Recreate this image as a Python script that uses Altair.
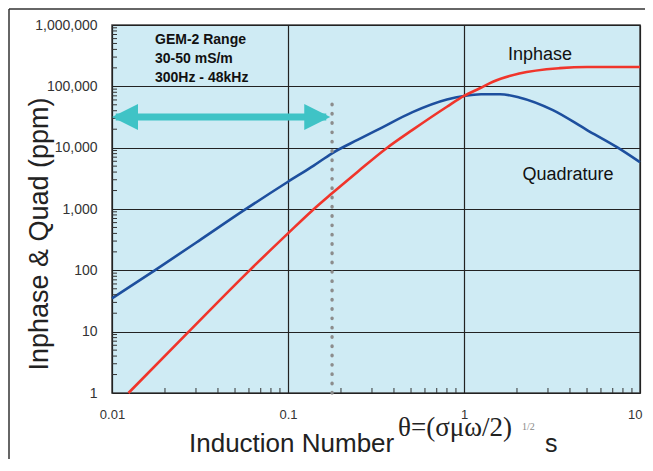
import altair as alt
import pandas as pd

# ---- data ----
theta_quad = [0.01, 0.0175, 0.031, 0.0555, 0.1, 0.14, 0.178, 0.25, 0.333, 0.51, 0.8,
              1.0, 1.25, 1.6, 2.06, 3.2, 5.0, 7.4, 10]
quadrature = [35, 100, 300, 930, 2780, 5100, 8100, 13500, 20500, 38000, 61000,
              69600, 74300, 74300, 66000, 41000, 19400, 10200, 5800]

theta_inph = [0.0124, 0.0273, 0.0605, 0.1, 0.136, 0.178, 0.25, 0.363, 0.51, 0.8,
              1.0, 1.23, 1.46, 2.06, 3.5, 5.0, 10]
inphase = [1, 10, 100, 400, 920, 1800, 4100, 9800, 19500, 46500,
           69600, 93000, 119000, 162000, 198000, 207000, 207000]

x_ticks = [0.01, 0.1, 1, 10]
y_ticks = [1, 10, 100, 1000, 10000, 100000, 1000000]
minor_mult = [2, 3, 4, 5, 6, 7, 8, 9]

gem_lines = ["GEM-2 Range", "30-50 mS/m", "300Hz - 48kHz"]
arrow_theta = [0.0105, 0.165]
arrow_ppm = 31600
dotted_theta = 0.178
dotted_top = 51000

# ---- tables ----
df = pd.concat([
    pd.DataFrame({"theta": theta_quad, "ppm": quadrature, "series": "Quadrature", "o": range(len(theta_quad))}),
    pd.DataFrame({"theta": theta_inph, "ppm": inphase, "series": "Inphase", "o": range(len(theta_inph))}),
])
minor_x = pd.DataFrame({"v": [m * d for d in x_ticks[:-1] for m in minor_mult]})
minor_y = pd.DataFrame({"v": [m * d for d in y_ticks[:-1] for m in minor_mult]})
one = pd.DataFrame({"a": [0]})

W, H = 528, 368
F = "Liberation Sans"
SERIF = "Liberation Serif"

xs = alt.Scale(type="log", domain=[0.01, 10], nice=False)
ys = alt.Scale(type="log", domain=[1, 1000000], nice=False)
AX = alt.Axis(values=x_ticks, format="~g", title=None, grid=True, labelFlush=False,
              labelAlign=alt.ExprRef(expr="datum.value == 10 ? 'right' : 'center'"),
              labelOffset=alt.ExprRef(expr="datum.value == 10 ? 2 : 0"),
              gridColor="#222", gridWidth=1.2, gridOpacity=1, ticks=False, domain=False,
              labelFont=F, labelFontSize=13, labelColor="#333", labelPadding=15)
AY = alt.Axis(values=y_ticks, format=",", title=None, grid=True, labelFlush=False,
              gridColor="#222", gridWidth=1.2, gridOpacity=1, ticks=False, domain=False,
              labelFont=F, labelFontSize=14, labelColor="#333", labelPadding=15)


def X(f):
    return alt.X(f, scale=xs, axis=AX)


def Y(f):
    return alt.Y(f, scale=ys, axis=AY)


lines = alt.Chart(df).mark_line(strokeWidth=2.6, interpolate="monotone").encode(
    x=X("theta:Q"),
    y=Y("ppm:Q"),
    color=alt.Color("series:N", scale=alt.Scale(domain=["Quadrature", "Inphase"],
                                                range=["#1d4f9e", "#f0352b"]), legend=None),
    order="o:Q",
)

mx = alt.Chart(minor_x).mark_rule(color="#333", strokeWidth=1).encode(
    x=X("v:Q"), y=alt.value(H), y2=alt.value(H - 5))
my = alt.Chart(minor_y).mark_rule(color="#333", strokeWidth=1).encode(
    y=Y("v:Q"), x=alt.value(0), x2=alt.value(5))

dotted = alt.Chart(pd.DataFrame({"t": [dotted_theta], "y1": [1], "y2": [dotted_top]})).mark_rule(
    color="#8c8c8c", strokeWidth=3.4, strokeDash=[0.5, 8.8], strokeCap="round").encode(
    x=X("t:Q"), y=Y("y1:Q"), y2="y2:Q")

teal = "#3fc3c6"
shaft = alt.Chart(pd.DataFrame({"t1": [arrow_theta[0]], "t2": [arrow_theta[1]], "p": [arrow_ppm]})).mark_rule(
    color=teal, strokeWidth=7).encode(
    x=X("t1:Q"), x2="t2:Q", y=Y("p:Q"))
head_l = alt.Chart(pd.DataFrame({"t": [0.01], "p": [arrow_ppm]})).mark_point(
    shape="M-1,0L1,-1L1,1Z", size=676, filled=True, opacity=1, color=teal, xOffset=13).encode(
    x=X("t:Q"), y=Y("p:Q"))
head_r = alt.Chart(pd.DataFrame({"t": [0.1738], "p": [arrow_ppm]})).mark_point(
    shape="M1,0L-1,-1L-1,1Z", size=676, filled=True, opacity=1, color=teal, xOffset=-13).encode(
    x=X("t:Q"), y=Y("p:Q"))


def txt(s, x, y, size, font=F, weight="normal", align="left", color="#111", angle=0, baseline="alphabetic"):
    return alt.Chart(one).mark_text(text=s, font=font, fontSize=size, fontWeight=weight, align=align,
                                    baseline=baseline, color=color, angle=angle).encode(
        x=alt.value(x), y=alt.value(y))


texts = [
    txt(gem_lines[0], 43, 19, 14, weight="bold"),
    txt(gem_lines[1], 43, 38, 14, weight="bold"),
    txt(gem_lines[2], 43, 57, 14, weight="bold"),
    txt("Inphase", 428, 35, 18, align="center"),
    txt("Quadrature", 456, 155, 18, align="center"),
    txt("Inphase & Quad (ppm)", -72, 209, 27, align="center", angle=270, baseline="middle", color="#222"),
    txt("Induction Number", 77, 427, 26, color="#222"),
    txt("θ=(σμω/2)", 286, 411, 27, font=SERIF, color="#222"),
    txt("1/2", 410, 405, 10, font=SERIF, color="#888"),
    txt("s", 433, 427, 25, color="#222"),
]

frame_top = alt.Chart(one).mark_rule(color="#333", strokeWidth=1.5).encode(
    x=alt.value(-103), x2=alt.value(W + 6), y=alt.value(-16))
frame_left = alt.Chart(one).mark_rule(color="#333", strokeWidth=1.5).encode(
    x=alt.value(-103), y=alt.value(-16), y2=alt.value(H + 80))

chart = alt.layer(
    lines, mx, my, dotted, shaft, head_l, head_r, *texts, frame_top, frame_left
).properties(
    width=W, height=H,
    background="white",
    padding={"left": 104, "top": 17, "right": 5, "bottom": 66},
    autosize=alt.AutoSizeParams(type="none"),
).configure_view(
    fill="#cfebf4", stroke="#444", strokeWidth=1.5
)

chart.save("out.html", embed_options={"renderer": "svg", "actions": False})
